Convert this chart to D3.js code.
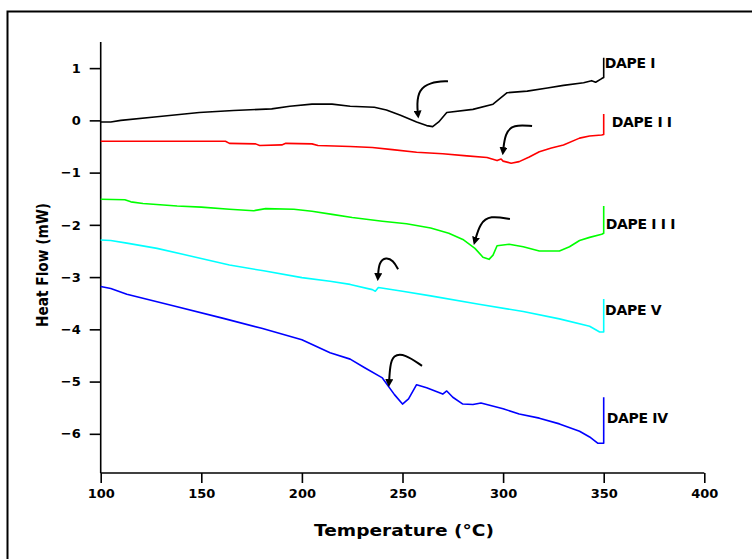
<!DOCTYPE html>
<html>
<head>
<meta charset="utf-8">
<script src="https://cdn.jsdelivr.net/npm/d3@7"></script>
<style>
  html, body { margin: 0; padding: 0; background: #fff; }
  svg { display: block; }
  text { font-family: "DejaVu Sans", sans-serif; font-weight: bold; }
</style>
</head>
<body>
<div id="chart"></div>
<script>
const width = 752;
const height = 559;

// series: [temperature °C, heat flow mW]
const dape1 = [[100,-0.03],[105,-0.03],[110,0.0],[128,0.07],[149,0.15],[166,0.19],[185,0.22],[194,0.27],[205,0.31],[215,0.31],[224,0.27],[236,0.25],[242,0.2],[249,0.1],[257,-0.03],[262,-0.1],[265,-0.12],[268,-0.03],[272,0.15],[285,0.21],[295,0.31],[302,0.53],[312,0.56],[322,0.62],[330,0.67],[340,0.72],[344,0.76],[346,0.73],[349,0.8],[350,0.82],[350,1.2]];
const dape2 = [[100,-0.4],[162,-0.4],[164,-0.44],[177,-0.45],[179,-0.48],[190,-0.47],[192,-0.44],[205,-0.45],[208,-0.48],[224,-0.5],[235,-0.52],[245,-0.56],[257,-0.61],[270,-0.64],[282,-0.68],[292,-0.71],[297,-0.77],[299,-0.74],[300,-0.78],[304,-0.82],[308,-0.79],[313,-0.7],[318,-0.6],[324,-0.53],[330,-0.47],[338,-0.34],[343,-0.3],[349,-0.28],[350,-0.27],[350,0.12]];
const dape3 = [[100,-1.51],[112,-1.52],[115,-1.56],[121,-1.59],[138,-1.64],[150,-1.66],[164,-1.7],[176,-1.73],[182,-1.69],[196,-1.7],[205,-1.74],[215,-1.8],[225,-1.86],[240,-1.93],[252,-1.98],[264,-2.06],[273,-2.16],[280,-2.28],[286,-2.45],[290,-2.62],[293,-2.66],[295,-2.58],[297,-2.4],[303,-2.37],[310,-2.42],[318,-2.5],[328,-2.5],[333,-2.42],[338,-2.3],[343,-2.24],[349,-2.18],[350,-2.16],[350,-1.64]];
const dape5 = [[100,-2.29],[105,-2.3],[113,-2.35],[128,-2.45],[144,-2.59],[164,-2.77],[181,-2.88],[200,-3.01],[214,-3.08],[224,-3.14],[235,-3.24],[236.5,-3.27],[238,-3.2],[250,-3.27],[264,-3.36],[288,-3.52],[310,-3.66],[328,-3.8],[343,-3.94],[348,-4.05],[350,-4.05],[350,-3.42]];
const dape4 = [[100,-3.18],[105,-3.22],[113,-3.33],[136,-3.55],[161,-3.79],[180,-3.98],[200,-4.2],[214,-4.45],[224,-4.57],[231,-4.73],[240,-4.93],[246,-5.25],[250,-5.43],[253,-5.33],[257,-5.06],[262,-5.12],[270,-5.24],[272,-5.18],[275,-5.3],[280,-5.43],[285,-5.44],[289,-5.41],[300,-5.52],[308,-5.62],[318,-5.7],[328,-5.81],[338,-5.95],[343,-6.06],[347,-6.18],[350,-6.18],[350,-5.3]];

const seriesNames = ["DAPE I", "DAPE I I", "DAPE I I I", "DAPE V", "DAPE IV"];
const seriesColors = ["#000000", "#ff0000", "#00ff00", "#00ffff", "#0000ff"];
const seriesData = [dape1, dape2, dape3, dape5, dape4];
// label anchor in data units (left end of each label)
const labelPos = [[350.5, 1.0], [354, -0.12], [351, -2.08], [350.7, -3.72], [351.5, -5.8]];

// curved annotation arrows, in data units, last point is the tip
const arrows = [
  [[272.6,0.75],[263.7,0.73],[258,0.58],[257.2,0.3],[257.7,0.11]],
  [[314.4,-0.11],[305,-0.08],[301,-0.25],[300,-0.59]],
  [[303.4,-1.89],[293.5,-1.82],[288.5,-1.97],[286,-2.31]],
  [[247.8,-2.85],[245.3,-2.68],[241.8,-2.62],[238.3,-2.71],[237.8,-3.0]],
  [[259.7,-4.7],[251.2,-4.47],[245.3,-4.49],[243.8,-4.7],[243.3,-5.03]]
];

const xTicks = [100, 150, 200, 250, 300, 350, 400];
const yTicks = [1, 0, -1, -2, -3, -4, -5, -6];

const x = d3.scaleLinear().domain([100, 400]).range([100.7, 704.3]);
const y = d3.scaleLinear().domain([-6.75, 1.5]).range([473, 42]);

const svg = d3.select("#chart").append("svg")
  .attr("width", width).attr("height", height);

svg.append("defs").append("marker")
  .attr("id", "head")
  .attr("viewBox", "0 0 10 10")
  .attr("refX", 5).attr("refY", 5)
  .attr("markerWidth", 4).attr("markerHeight", 4)
  .attr("orient", "auto")
  .append("path").attr("d", "M0,0L10,5L0,10z").attr("fill", "#000");

// outer frame (runs off the right and bottom of the picture)
svg.append("rect")
  .attr("x", 7.5).attr("y", 11.5)
  .attr("width", 800).attr("height", 600)
  .attr("fill", "none").attr("stroke", "#000").attr("stroke-width", 2);

// x axis
const xAxis = svg.append("g").attr("transform", `translate(0,${y.range()[0]})`);
xAxis.call(d3.axisBottom(x).tickValues(d3.range(125, 400, 50)).tickSize(5).tickFormat(""));
xAxis.call(d3.axisBottom(x).tickValues(xTicks).tickSize(10).tickPadding(6).tickFormat(d3.format("d")));
xAxis.selectAll(".domain").attr("stroke-width", 1.6).attr("d", `M${x.range()[0]},0H${x.range()[1]}`);
xAxis.selectAll(".tick line").attr("stroke-width", 1.6);
xAxis.selectAll("text").attr("font-size", 13).attr("fill", "#000");

// y axis
const yAxis = svg.append("g").attr("transform", `translate(${x.range()[0]},0)`);
yAxis.call(d3.axisLeft(y).tickValues(d3.range(-6.5, 1.6, 1)).tickSize(5).tickFormat(""));
yAxis.call(d3.axisLeft(y).tickValues(yTicks).tickSize(11).tickPadding(9).tickFormat(d3.format("d")));
yAxis.selectAll(".domain").attr("stroke-width", 1.6).attr("d", `M0,${y.range()[0]}V${y.range()[1]}`);
yAxis.selectAll(".tick line").attr("stroke-width", 1.6);
yAxis.selectAll("text").attr("font-size", 13).attr("fill", "#000");

// axis titles
svg.append("text")
  .attr("x", 404).attr("y", 536)
  .attr("text-anchor", "middle").attr("font-size", 15)
  .attr("textLength", 180).attr("lengthAdjust", "spacingAndGlyphs")
  .text("Temperature (°C)");

svg.append("text")
  .attr("transform", "translate(48,265) rotate(-90)")
  .attr("text-anchor", "middle").attr("font-size", 15)
  .attr("textLength", 124).attr("lengthAdjust", "spacingAndGlyphs")
  .text("Heat Flow (mW)");

// curves
const line = d3.line().x(d => x(d[0])).y(d => y(d[1]));

svg.append("g").selectAll("path")
  .data(seriesData)
  .join("path")
  .attr("d", line)
  .attr("fill", "none")
  .attr("stroke", (d, i) => seriesColors[i])
  .attr("stroke-width", 1.6)
  .attr("stroke-linejoin", "round");

svg.append("g").selectAll("text")
  .data(seriesNames)
  .join("text")
  .attr("x", (d, i) => x(labelPos[i][0]))
  .attr("y", (d, i) => y(labelPos[i][1]))
  .attr("font-size", 14)
  .attr("letter-spacing", -0.3)
  .attr("fill", "#000")
  .text(d => d);

// arrows
const arrowLine = d3.line().x(d => x(d[0])).y(d => y(d[1])).curve(d3.curveBasis);
svg.append("g").selectAll("path")
  .data(arrows)
  .join("path")
  .attr("d", arrowLine)
  .attr("fill", "none")
  .attr("stroke", "#000")
  .attr("stroke-width", 2)
  .attr("marker-end", "url(#head)");
</script>
</body>
</html>
